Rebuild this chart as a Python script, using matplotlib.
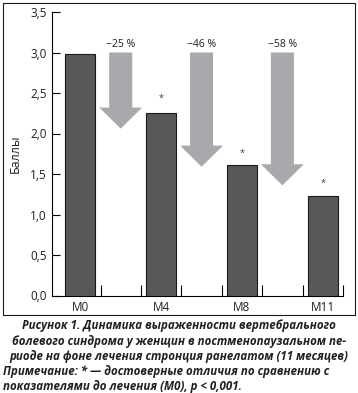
import matplotlib.pyplot as plt
from matplotlib.patches import Rectangle

categories = ['M0', 'M4', 'M8', 'M11']
values = [2.98, 2.25, 1.61, 1.23]
star_y = [None, 2.43, 1.76, 1.38]
arrow_labels = ['\u221225 %', '\u221246 %', '\u221258 %']
arrow_top = [3.0, 3.0, 3.0]
arrow_tip = [2.06, 1.59, 1.36]
yticks = [0.0, 0.5, 1.0, 1.5, 2.0, 2.5, 3.0, 3.5]

txt = '#231f20'
plt.rcParams['font.family'] = ['Open Sans', 'DejaVu Sans']

fig = plt.figure(figsize=(3.58, 3.93), dpi=100)
ax = fig.add_axes([52/358, 1-295.5/393, (343-52)/358, (295.5-12)/393])

xs = [2*i for i in range(len(categories))]
ax.bar(xs, values, width=0.74, color='#58585a', edgecolor='#1a1a1a', linewidth=0.8, zorder=3)
for x, s in zip(xs, star_y):
    if s is not None:
        ax.text(x, s, '*', ha='center', va='center', fontsize=6.5, color='#333333')

# arrows between bars
for i, (lab, top, tip) in enumerate(zip(arrow_labels, arrow_top, arrow_tip)):
    xa = 2*i + 1
    ax.arrow(xa, top, 0, tip - top, width=0.57, head_width=1.06, head_length=0.26,
             length_includes_head=True, color='#a7a9ac', ec='none', zorder=2)
    ax.text(xa, top + 0.03, lab, ha='center', va='bottom', fontsize=7.5, color=txt)

ax.set_xlim(-0.7, 6.5)
ax.set_ylim(0, 3.5)
ax.set_yticks(yticks)
ax.set_yticklabels([f'{v:.1f}'.replace('.', ',') for v in yticks], fontsize=8.5, color=txt)
ax.set_xticks(xs)
ax.set_xticklabels(categories, fontsize=8.5, color=txt)
ax.tick_params(axis='x', length=0, pad=4)
ax.set_xticks([0.5, 1.5, 2.5, 3.5, 4.5, 5.5, 6.5], minor=True)
ax.tick_params(axis='x', which='minor', direction='in', length=8, width=0.8)
ax.tick_params(axis='y', direction='in', length=6, width=0.8, pad=4)
for s in ['top', 'right']:
    ax.spines[s].set_visible(False)
for s in ['left', 'bottom']:
    ax.spines[s].set_linewidth(0.8)
ax.set_ylabel('Баллы', fontsize=9, color=txt, labelpad=6)

fig.add_artist(Rectangle((3/358, 1-315/393), 352/358, 312/393, transform=fig.transFigure,
                         fill=False, ec='#1a1a1a', lw=0.8))

cap = dict(fontsize=8.3, fontweight='bold', fontstyle='italic', color=txt, family=['Open Sans', 'DejaVu Sans'])
lines = ['Рисунок 1. Динамика выраженности вертебрального',
         'болевого синдрома у женщин в постменопаузальном пе-',
         'риоде на фоне лечения стронция ранелатом (11 месяцев)']
for k, l in enumerate(lines):
    fig.text(0.5, 1-(326+15.2*k)/393, l, ha='center', va='center', **cap)
fig.text(3/358, 1-(326+15.2*3)/393, 'Примечание: * \u2014 достоверные отличия по сравнению с', ha='left', va='center', **cap)
fig.text(3/358, 1-(326+15.2*4)/393, 'показателями до лечения (М0), р < 0,001.', ha='left', va='center', **cap)

fig.savefig('out.png', dpi=100)
